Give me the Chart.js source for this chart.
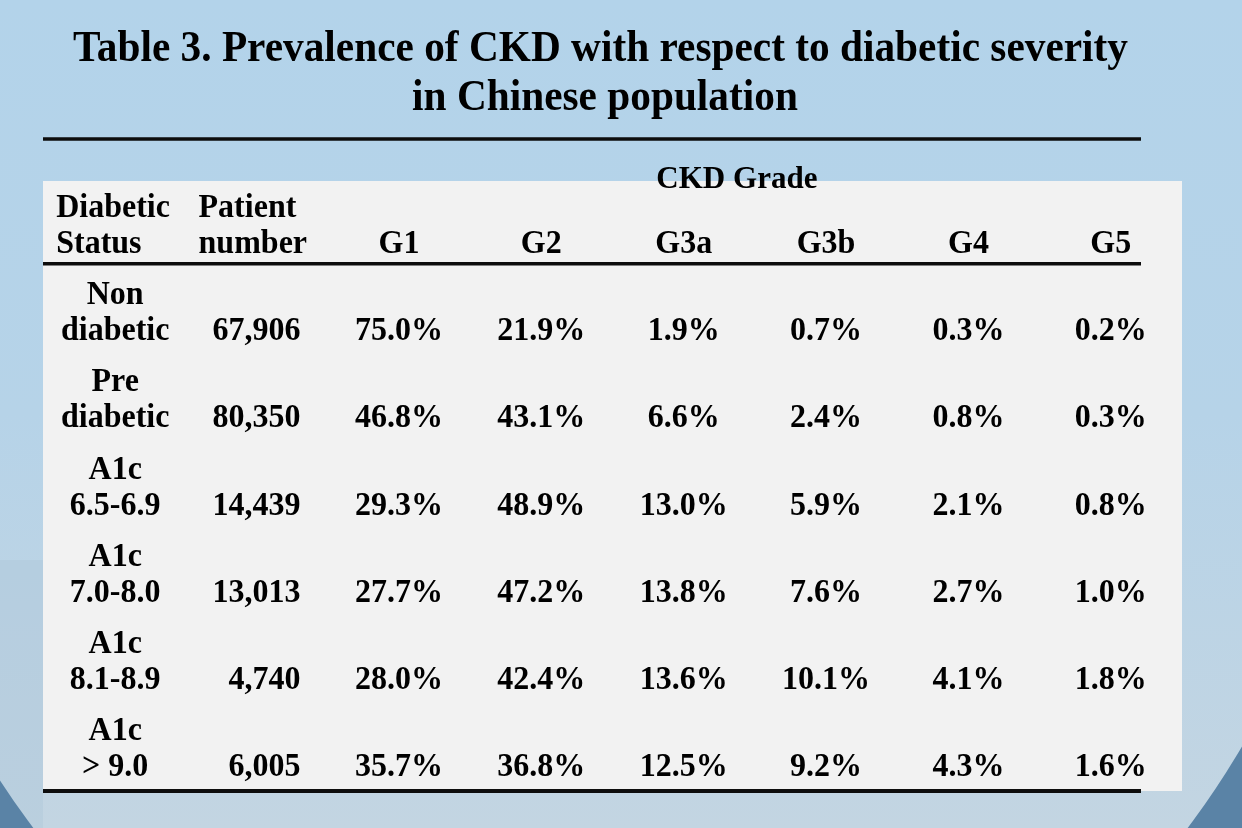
<!DOCTYPE html>
<html>
<head>
<meta charset="utf-8">
<script src="https://cdn.jsdelivr.net/npm/chart.js@4.4.1/dist/chart.umd.min.js"></script>
<style>
  html, body { margin: 0; padding: 0; background: #b4d3ea; }
  #wrap { width: 1242px; height: 828px; }
</style>
</head>
<body>
<div id="wrap"><canvas id="c" width="1242" height="828"></canvas></div>
<script>
// ---------- data ----------
const titleLines = ["Table 3. Prevalence of CKD with respect to diabetic severity", "in Chinese population"];
const groupHeader = "CKD Grade";
const headerLabels = ["Diabetic\nStatus", "Patient\nnumber", "G1", "G2", "G3a", "G3b", "G4", "G5"];
const statusLabels = ["Non\ndiabetic", "Pre\ndiabetic", "A1c\n6.5-6.9", "A1c\n7.0-8.0", "A1c\n8.1-8.9", "A1c\n> 9.0"];
const patientNumbers = [67906, 80350, 14439, 13013, 4740, 6005];
const g1  = [75.0, 46.8, 29.3, 27.7, 28.0, 35.7];
const g2  = [21.9, 43.1, 48.9, 47.2, 42.4, 36.8];
const g3a = [1.9, 6.6, 13.0, 13.8, 13.6, 12.5];
const g3b = [0.7, 2.4, 5.9, 7.6, 10.1, 9.2];
const g4  = [0.3, 0.8, 2.1, 2.7, 4.1, 4.3];
const g5  = [0.2, 0.3, 0.8, 1.0, 1.8, 1.6];
const gradeColumns = [g1, g2, g3a, g3b, g4, g5];

// ---------- build cells (column index, row index, text) ----------
const cells = [];
headerLabels.forEach((t, c) => cells.push({ x: c, y: 0, text: t, kind: c < 2 ? 'headLeft' : 'head' }));
statusLabels.forEach((t, r) => cells.push({ x: 0, y: r + 1, text: t, kind: 'status' }));
patientNumbers.forEach((v, r) => cells.push({ x: 1, y: r + 1, text: v.toLocaleString('en-US'), kind: 'number' }));
gradeColumns.forEach((col, c) => col.forEach((v, r) =>
  cells.push({ x: c + 2, y: r + 1, text: v.toFixed(1) + '%', kind: 'pct' })));

const FONT = '"Liberation Serif", "Times New Roman", serif';
const LINE_GAP = 18;
const TEXT_DY = 2;
const CELL_SX = 0.97;

function drawText(ctx, text, x, y, align, sx) {
  ctx.save();
  ctx.translate(x, y);
  ctx.scale(sx, 1);
  ctx.textAlign = align;
  ctx.fillText(text, 0, 0);
  ctx.restore();
}

const tablePlugin = {
  id: 'tablePlugin',
  beforeDraw(chart) {
    const ctx = chart.ctx, W = chart.width, H = chart.height, a = chart.chartArea;
    const ys = chart.scales.y;
    ctx.save();
    // background
    const g = ctx.createLinearGradient(0, 0, 0, H);
    g.addColorStop(0, '#b3d3ea');
    g.addColorStop(0.5, '#b6d3e8');
    g.addColorStop(1, '#c3d5e2');
    ctx.fillStyle = g;
    ctx.fillRect(0, 0, W, H);
    // left lighter band
    ctx.fillStyle = 'rgba(176,200,218,0.45)';
    ctx.fillRect(0, 560, a.left, H - 560);
    // dark corner shapes (outside of large ellipses)
    ctx.fillStyle = '#5a83a6';
    ctx.save();
    ctx.beginPath(); ctx.rect(W / 2, 0, W / 2, H); ctx.clip();
    ctx.beginPath();
    ctx.rect(-20, -20, W + 40, H + 40);
    ctx.ellipse(621, 300, 740, 821, 0, 0, Math.PI * 2, true);
    ctx.fill('evenodd');
    ctx.restore();
    ctx.save();
    ctx.beginPath(); ctx.rect(0, 0, W / 2, H); ctx.clip();
    ctx.beginPath();
    ctx.rect(-20, -20, W + 40, H + 40);
    ctx.ellipse(600, 300, 740, 821, 0, 0, Math.PI * 2, true);
    ctx.fill('evenodd');
    ctx.restore();
    // panel
    ctx.fillStyle = '#f2f2f2';
    ctx.fillRect(a.left, a.top, a.right - a.left, a.bottom - a.top);
    // title
    ctx.fillStyle = '#000';
    ctx.font = 'bold 45px ' + FONT;
    ctx.textBaseline = 'middle';
    const tsx = 1055 / ctx.measureText(titleLines[0]).width;
    drawText(ctx, titleLines[0], 600.5, 49, 'center', tsx);
    drawText(ctx, titleLines[1], 605, 98, 'center', tsx);
    // rules
    ctx.strokeStyle = '#0d0d0d';
    ctx.lineWidth = 3.5;
    ctx.beginPath(); ctx.moveTo(a.left, 139); ctx.lineTo(1141, 139); ctx.stroke();
    const yh = ys.getPixelForValue(0.45);
    ctx.beginPath(); ctx.moveTo(a.left, yh); ctx.lineTo(1141, yh); ctx.stroke();
    const yb = ys.getPixelForValue(6.5);
    ctx.lineWidth = 4;
    ctx.beginPath(); ctx.moveTo(a.left, yb); ctx.lineTo(1141, yb); ctx.stroke();
    ctx.restore();
  },
  afterDatasetsDraw(chart) {
    const ctx = chart.ctx;
    const xs = chart.scales.x;
    const meta = chart.getDatasetMeta(0);
    ctx.save();
    ctx.fillStyle = '#000';
    ctx.textBaseline = 'middle';
    // group header
    ctx.font = 'bold 32px ' + FONT;
    drawText(ctx, groupHeader, (xs.getPixelForValue(4) + xs.getPixelForValue(5)) / 2 - 18, 180, 'center', CELL_SX);
    ctx.font = 'bold 33px ' + FONT;
    meta.data.forEach((el, i) => {
      const cell = cells[i];
      const lines = cell.text.split('\n');
      let x = el.x, align = 'center';
      const y = el.y + TEXT_DY;
      if (cell.kind === 'headLeft') { align = 'left'; x = el.x - 58; }
      else if (cell.kind === 'number') { align = 'right'; x = el.x + 44; }
      else if (cell.kind === 'status') { x = el.x + 1; }
      if (lines.length === 2) {
        drawText(ctx, lines[0], x, y - LINE_GAP, align, CELL_SX);
        drawText(ctx, lines[1], x, y + LINE_GAP, align, CELL_SX);
      } else {
        drawText(ctx, lines[0], x, y + LINE_GAP, align, CELL_SX);
      }
    });
    ctx.restore();
  }
};

new Chart(document.getElementById('c'), {
  type: 'scatter',
  data: {
    datasets: [{
      data: cells.map(c => ({ x: c.x, y: c.y })),
      pointRadius: 0,
      pointHoverRadius: 0
    }]
  },
  options: {
    responsive: false,
    animation: false,
    events: [],
    layout: { padding: { left: 43, right: 60, top: 181, bottom: 37 } },
    plugins: { legend: { display: false }, tooltip: { enabled: false }, title: { display: false } },
    scales: {
      x: { type: 'linear', min: -0.5, max: 7.5, display: false },
      y: { type: 'linear', min: -0.5, max: 6.5, reverse: true, display: false }
    }
  },
  plugins: [tablePlugin]
});
</script>
</body>
</html>
